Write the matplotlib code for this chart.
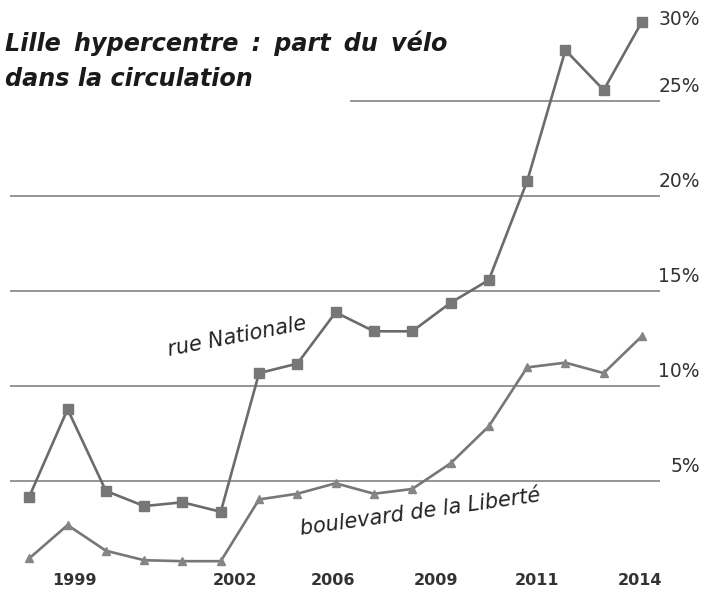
import numpy as np
import matplotlib
matplotlib.use("Agg")
import matplotlib.pyplot as plt
import matplotlib.transforms as mtransforms

# values (% of bikes in traffic), 17 counts
rue_nationale = [4.2, 8.8, 4.5, 3.7, 3.9, 3.4, 10.7, 11.2, 13.9, 12.9, 12.9,
                 14.4, 15.6, 20.8, 27.7, 25.6, 29.2]
bd_liberte = [0.95, 2.7, 1.35, 0.85, 0.8, 0.8, 4.05, 4.35, 4.9, 4.35, 4.6,
              5.95, 7.9, 11.0, 11.25, 10.7, 12.65]

year_labels = ["1999", "2002", "2006", "2009", "2011", "2014"]
year_pos = [1.19, 5.37, 7.94, 10.62, 13.27, 15.94]

y_ticks = [5, 10, 15, 20, 25, 30]
y_labels = ["5%", "10%", "15%", "20%", "25%", "30%"]

x = np.arange(len(rue_nationale))

fig = plt.figure(figsize=(7.04, 5.91), dpi=100)
ax = fig.add_axes([10 / 704, 0, 650 / 704, 1])
ax.set_xlim(-0.504, 16.47)
ax.set_ylim(-0.77, 30.34)
ax.axis("off")

# horizontal grid lines (25% one starts after the title)
for v in y_ticks[:-1]:
    start = 0.525 if v == 25 else 0.0
    ax.axhline(v, xmin=start, xmax=1.0, color="#8c8c8c", lw=1.3, zorder=1)

ax.plot(x, rue_nationale, color="#6b6b6b", lw=1.9, marker="s", ms=6.5,
        mfc="#777777", mec="#777777", zorder=3)
ax.plot(x, bd_liberte, color="#777777", lw=1.9, marker="^", ms=5.5,
        mfc="#858585", mec="#858585", zorder=3)

# right-hand percentage labels
trans = mtransforms.blended_transform_factory(fig.transFigure, ax.transData)
for v, lab in zip(y_ticks, y_labels):
    ypos = min(v + 0.8, 29.3)
    ax.text(700 / 704, ypos, lab, transform=trans, ha="right", va="center",
            fontsize=13.5, family="DejaVu Sans", color="#333333")

# year labels along the bottom
for p, lab in zip(year_pos, year_labels):
    ax.text(p, -0.2, lab, ha="center", va="center", fontsize=11.5,
            family="DejaVu Sans", fontweight="bold", color="#333333")

# series names
ax.text(237, 591 - 337, "rue Nationale", transform=None, ha="center",
        va="center", rotation=11, fontsize=15, style="italic",
        family="DejaVu Sans", color="#222222")
ax.text(420, 591 - 512, "boulevard de la Liberté", transform=None,
        ha="center", va="center", rotation=8, fontsize=15, style="italic",
        family="DejaVu Sans", color="#222222")

fig.text(5 / 704, 1 - 43 / 591,
         "Lille\u2009 hypercentre\u2009 :\u2009 part\u2009 du\u2009 vélo",
         ha="left", va="center", fontsize=17.2, fontweight="bold",
         style="italic", family="DejaVu Sans", color="#1a1a1a")
fig.text(5 / 704, 1 - 79 / 591, "dans la circulation",
         ha="left", va="center", fontsize=17.2, fontweight="bold",
         style="italic", family="DejaVu Sans", color="#1a1a1a")

fig.savefig("out.png", dpi=100, facecolor="white")
